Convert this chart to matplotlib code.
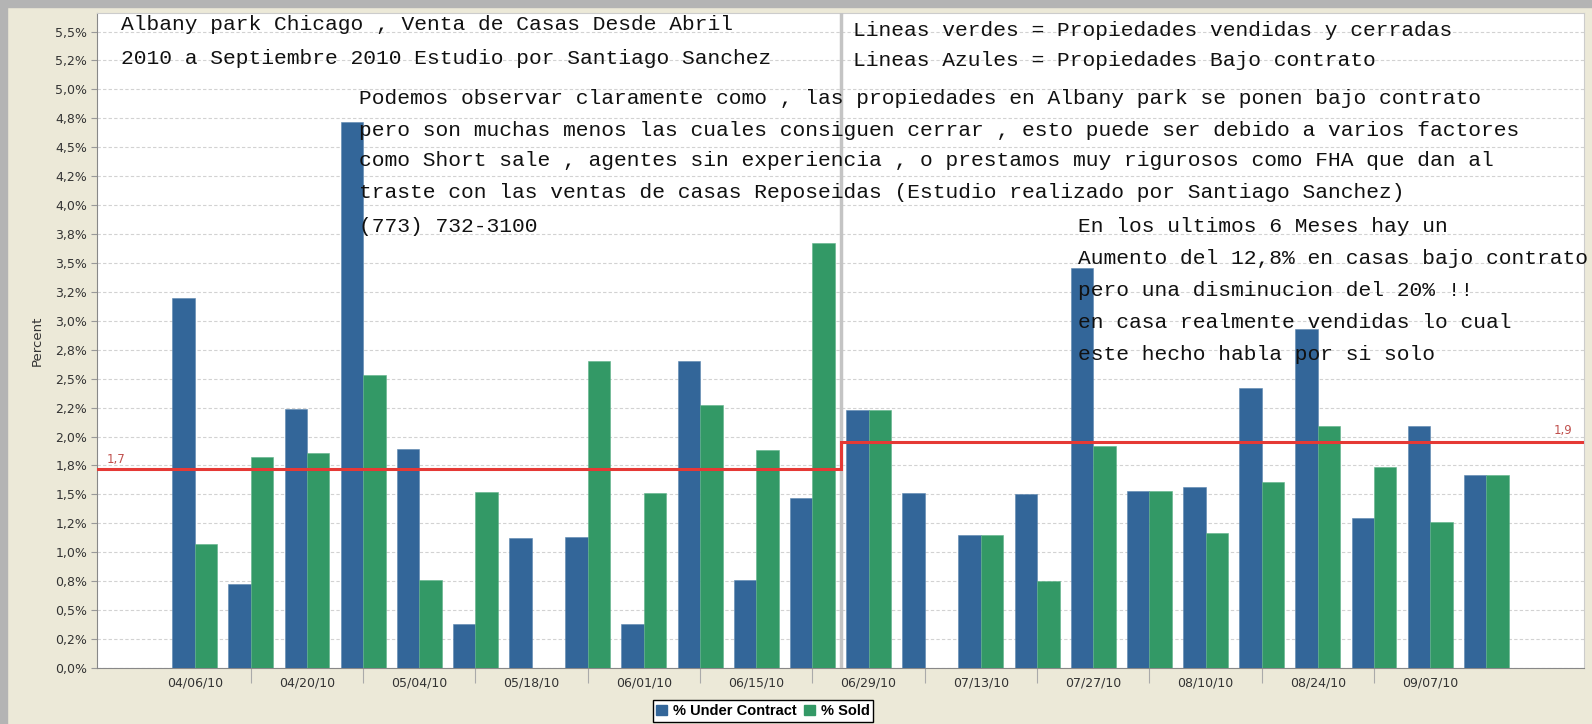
import numpy as np
from matplotlib import pyplot as plt
from matplotlib.patches import Rectangle, Patch
from matplotlib.ticker import FuncFormatter, MultipleLocator, FixedLocator

# weekly values (percent), one group per week starting 04/06/10
under_contract = [3.20, 0.73, 2.24, 4.72, 1.89, 0.38, 1.12, 1.13, 0.38, 2.65, 0.76, 1.47,
                  2.23, 1.51, 1.15, 1.50, 3.46, 1.53, 1.56, 2.42, 2.93, 1.30, 2.09, 1.67]
sold = [1.07, 1.82, 1.86, 2.53, 0.76, 1.52, 0.0, 2.65, 1.51, 2.27, 1.88, 3.67,
        2.23, 0.0, 1.15, 0.75, 1.92, 1.53, 1.17, 1.61, 2.09, 1.74, 1.26, 1.67]
tick_labels = ['04/06/10', '04/20/10', '05/04/10', '05/18/10', '06/01/10', '06/15/10',
               '06/29/10', '07/13/10', '07/27/10', '08/10/10', '08/24/10', '09/07/10']
series_names = ['% Under Contract', '% Sold']
period_avg = [1.72, 1.95]  # average line before / after the divider

title_lines = ['Albany park Chicago , Venta de Casas Desde Abril',
               '2010 a Septiembre 2010 Estudio por Santiago Sanchez']
key_lines = ['Lineas verdes = Propiedades vendidas y cerradas',
             'Lineas Azules = Propiedades Bajo contrato']
note_lines = ['Podemos observar claramente como , las propiedades en Albany park se ponen bajo contrato',
              'pero son muchas menos las cuales consiguen cerrar , esto puede ser debido a varios factores',
              'como Short sale , agentes sin experiencia , o prestamos muy rigurosos como FHA que dan al',
              'traste con las ventas de casas Reposeidas (Estudio realizado por Santiago Sanchez)',
              '(773) 732-3100']
trend_lines = ['En los ultimos 6 Meses hay un',
               'Aumento del 12,8% en casas bajo contrato',
               'pero una disminucion del 20% !!',
               'en casa realmente vendidas lo cual',
               'este hecho habla por si solo']

W, H = 1592, 724
BLUE = '#336699'
GREEN = '#339966'
RED = '#E53935'

fig = plt.figure(figsize=(W / 100, H / 100), dpi=100, facecolor='#ECE9D8')
# grey window frame on top / left
fig.patches.append(Rectangle((0, 0), 7 / W, 1, transform=fig.transFigure, color='#B4B4B4', zorder=0))
fig.patches.append(Rectangle((0, 1 - 7 / H), 1, 7 / H, transform=fig.transFigure, color='#B4B4B4', zorder=0))

ax = fig.add_axes([97 / W, 1 - 668 / H, (1584 - 97) / W, (668 - 13) / H])
ax.set_facecolor('white')

x = np.arange(len(under_contract))
w = 0.40
ax.bar(x - w / 2, under_contract, w, color=BLUE, edgecolor='#5b86b0', linewidth=0.4, zorder=3)
ax.bar(x + w / 2, sold, w, color=GREEN, edgecolor='#5fb38a', linewidth=0.4, zorder=3)

xmin, xmax = -1.74, 24.74
split = 11.5
ax.set_xlim(xmin, xmax)
ax.set_ylim(0, 5.66)

# divider and step average line
ax.axvline(split, color='#C4C4C4', lw=2.5, zorder=4)
ax.plot([xmin, split, split, xmax], [period_avg[0], period_avg[0], period_avg[1], period_avg[1]],
        color=RED, lw=2.2, zorder=5, solid_joinstyle='miter')
for v, xy, off, ha in [(period_avg[0], (xmin, period_avg[0]), (7, 2), 'left'),
                       (period_avg[1], (xmax, period_avg[1]), (-8, 4), 'right')]:
    lab = f'{int(v * 10) / 10:.1f}'.replace('.', ',')
    ax.annotate(lab, xy=xy, xytext=off, textcoords='offset points', ha=ha, va='bottom',
                fontsize=8.5, color='#C0504D')

# axes styling
ax.yaxis.set_major_locator(MultipleLocator(0.25))
ax.yaxis.set_major_formatter(FuncFormatter(lambda v, p: f'{v:.1f}'.replace('.', ',') + '%'))
ax.grid(axis='y', color='#D2D2D2', linestyle=(0, (3, 2)), linewidth=0.8, zorder=0)
ax.set_axisbelow(True)

ax.xaxis.set_major_locator(FixedLocator(x[::2]))
ax.set_xticklabels(tick_labels)
ax.xaxis.set_minor_locator(FixedLocator(x[1:-1:2]))
ax.tick_params(axis='x', which='major', length=0, pad=6, labelsize=9, labelcolor='#333333')
ax.tick_params(axis='x', which='minor', length=11, width=0.8, color='#AAAAAA')
ax.tick_params(axis='y', length=4, width=0.8, color='#999999', pad=3, labelsize=9, labelcolor='#333333')

for side in ['left', 'bottom']:
    ax.spines[side].set_color('#888888')
for side in ['top', 'right']:
    ax.spines[side].set_color('#CCCCCC')

ax.set_ylabel('Percent', fontsize=9.5, color='#333333')
ax.yaxis.set_label_coords(-0.0356, 0.5)

# annotations typed on the chart
mono = dict(family='Liberation Mono', fontsize=15.35, color='#111111', va='center', ha='left')
for lines, x0, ys in [(title_lines, 121, [24, 58]),
                      (key_lines, 853, [30.5, 61]),
                      (note_lines, 359, [99, 130, 161, 192, 226]),
                      (trend_lines, 1078, [226, 259, 291, 323, 355])]:
    for s, yy in zip(lines, ys):
        fig.text(x0 / W, 1 - yy / H, s, **mono)

handles = [Patch(color=BLUE), Patch(color=GREEN)]
leg = fig.legend(handles, series_names, loc='center', bbox_to_anchor=(763 / W, 1 - 711 / H), ncol=2,
                 frameon=True, fancybox=False, edgecolor='black', framealpha=1,
                 prop={'family': 'Liberation Sans', 'weight': 'bold', 'size': 10.5},
                 handlelength=0.75, handleheight=0.75, handletextpad=0.4, columnspacing=0.5,
                 borderpad=0.25, borderaxespad=0)
leg.get_frame().set_linewidth(1.0)

fig.savefig('out.png', dpi=100, facecolor=fig.get_facecolor())
